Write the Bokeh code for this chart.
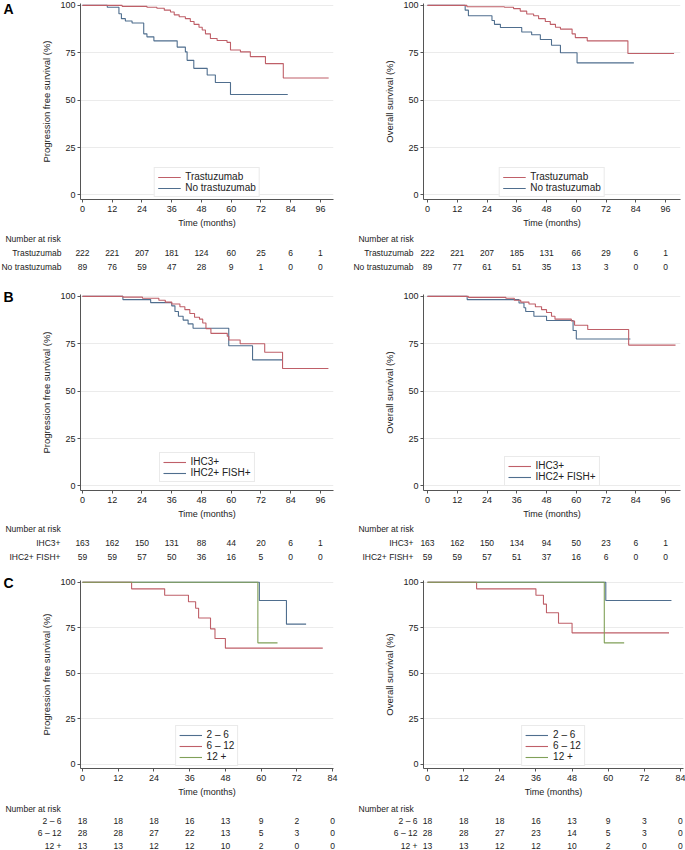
from bokeh.plotting import figure
from bokeh.models import Range1d, FixedTicker, Legend, LegendItem
from bokeh.core.properties import value
from bokeh.layouts import column, row
from bokeh.embed import file_html
from bokeh.resources import INLINE

FONT = "Liberation Sans"
RED = "#bf5f68"
BLUE = "#4f6e8e"
GREEN = "#80a058"
AXIS = "#555555"
TXT = "#222222"

# ---------------- data ----------------
months_96 = [0, 12, 24, 36, 48, 60, 72, 84, 96]
months_84 = [0, 12, 24, 36, 48, 60, 72, 84]
y_ticks = [0, 25, 50, 75, 100]

names_a = ["Trastuzumab", "No trastuzumab"]
names_b = ["IHC3+", "IHC2+ FISH+"]
names_c = ["2 \u2013 6", "6 \u2013 12", "12 +"]

# Panel A - progression free survival
a_pfs_tras_t = [0, 16, 26, 30, 33, 35.5, 37, 39, 41.5, 43.5, 45, 47, 48.3, 49.6, 51.6, 54.3, 58.3, 59.7, 63.7, 67.7, 73.8, 81, 99.3]
a_pfs_tras_s = [100, 99.5, 99, 98.5, 97.5, 96.5, 95, 94, 93, 91.5, 90, 88.5, 87, 85, 82.5, 81.5, 80.5, 76.5, 75.5, 73, 69.3, 61.7, 61.7]
a_pfs_none_t = [0, 10, 14.7, 15.7, 17.3, 20, 24.7, 26, 28.8, 38.2, 41.5, 42.2, 44.9, 50.3, 53.6, 59.7, 82.8]
a_pfs_none_s = [100, 99, 95.6, 93, 91.8, 90.7, 85, 83.4, 81.3, 78, 75.5, 71, 66.8, 63.3, 59.3, 53, 53]
# Panel A - overall survival
a_os_tras_t = [0, 15.9, 31, 34.7, 37.4, 40, 42.8, 44.8, 47.5, 49.5, 51.6, 53.6, 58.3, 59.6, 64.4, 80.8, 99.4]
a_os_tras_s = [100, 99.3, 99, 98.3, 97, 95.5, 94.5, 93, 91.5, 90, 88.5, 87.5, 85, 83, 81.3, 74.6, 74.6]
a_os_none_t = [0, 15.2, 16.5, 26, 27, 29.4, 38, 42, 45.5, 50, 53.6, 60.3, 83.2]
a_os_none_s = [100, 97.5, 94.5, 92, 90, 88.3, 86, 84.5, 82, 79, 75, 69.7, 69.7]

# Panel B - progression free survival
b_pfs_ihc3_t = [0, 16.3, 24.2, 30.8, 33.4, 36, 39.3, 41.3, 43.3, 45.2, 47.2, 48.5, 49.8, 51.8, 58.4, 59, 63.6, 73.5, 80.7, 99.2]
b_pfs_ihc3_s = [100, 99.6, 99, 98, 97, 96, 94.5, 93, 91, 89, 88, 86, 83, 80.5, 79, 77, 75, 70.5, 62, 62]
b_pfs_ihc2_t = [0, 16.3, 27.5, 36, 37.3, 38.7, 40.6, 42.6, 44.6, 59, 68.6, 80.7]
b_pfs_ihc2_s = [100, 98.3, 96.7, 95, 92, 89.5, 87.5, 85.5, 83.2, 74, 66.5, 66.5]
# Panel B - overall survival
b_os_ihc3_t = [0, 16.5, 31.6, 35, 37.6, 40.9, 43.5, 46, 48, 50, 51.4, 58, 59.3, 64.6, 81.1, 100]
b_os_ihc3_s = [100, 99.5, 99, 98, 97, 96, 94.5, 93, 91.5, 89.5, 88, 87, 84.8, 82.5, 74.3, 74.3]
b_os_ihc2_t = [0, 16, 36.9, 38.9, 39.6, 42.9, 48, 58.7, 60, 81.8]
b_os_ihc2_s = [100, 98.3, 96.5, 94, 92, 89.5, 87.3, 82, 77.5, 77.5]

# Panel C - progression free survival
c_pfs_26_t = [0, 59.4, 68.5, 75.1]
c_pfs_26_s = [100, 90, 77, 77]
c_pfs_612_t = [0, 16.5, 27.6, 35.6, 38, 39, 43, 44.5, 48, 80.7]
c_pfs_612_s = [100, 96.4, 92.9, 89.3, 85.7, 80.4, 74.4, 69.1, 63.8, 63.8]
c_pfs_12_t = [0, 58.9, 65.5]
c_pfs_12_s = [100, 66.7, 66.7]
# Panel C - overall survival
c_os_26_t = [0, 59.2, 81]
c_os_26_s = [100, 90, 90]
c_os_612_t = [0, 16.3, 36, 38.5, 39.5, 43.5, 48, 80.2]
c_os_612_s = [100, 96.4, 92.9, 88, 83.3, 77.5, 72.2, 72.2]
c_os_12_t = [0, 58.7, 65.3]
c_os_12_s = [100, 66.7, 66.7]

# Number at risk (rows in legend order)
risk_a_pfs = [[222, 221, 207, 181, 124, 60, 25, 6, 1],
              [89, 76, 59, 47, 28, 9, 1, 0, 0]]
risk_a_os = [[222, 221, 207, 185, 131, 66, 29, 6, 1],
             [89, 77, 61, 51, 35, 13, 3, 0, 0]]
risk_b_pfs = [[163, 162, 150, 131, 88, 44, 20, 6, 1],
              [59, 59, 57, 50, 36, 16, 5, 0, 0]]
risk_b_os = [[163, 162, 150, 134, 94, 50, 23, 6, 1],
             [59, 59, 57, 51, 37, 16, 6, 0, 0]]
risk_c_pfs = [[18, 18, 18, 16, 13, 9, 2, 0],
              [28, 28, 27, 22, 13, 5, 3, 0],
              [13, 13, 12, 12, 10, 2, 0, 0]]
risk_c_os = [[18, 18, 18, 16, 13, 9, 3, 0],
             [28, 28, 27, 23, 14, 5, 3, 0],
             [13, 13, 12, 12, 10, 2, 0, 0]]

Y0, Y1 = -2.4, 101.0
LETTER_W = 20


def base_fig(**kw):
    f = figure(output_backend="svg", toolbar_location=None, tools="", **kw)
    f.frame_align = False
    f.outline_line_color = None
    return f


def km_fig(width, height, bl, br, bt, bb, xr, xticks, ylabel, curves,
           legend_order, leg_margin):
    p = base_fig(width=width, height=height,
                 x_range=Range1d(xr[0], xr[1]), y_range=Range1d(Y0, Y1),
                 min_border_left=bl, min_border_right=br,
                 min_border_top=bt, min_border_bottom=bb)
    p.xgrid.visible = False
    p.ygrid.ticker = FixedTicker(ticks=y_ticks)
    p.ygrid.grid_line_color = "#ebebeb"
    p.xaxis.ticker = FixedTicker(ticks=xticks)
    p.yaxis.ticker = FixedTicker(ticks=y_ticks)
    for ax in (p.xaxis[0], p.yaxis[0]):
        ax.axis_line_color = AXIS
        ax.major_tick_line_color = AXIS
        ax.major_tick_out = 3
        ax.major_tick_in = 0
        ax.minor_tick_line_color = None
        ax.major_label_text_font = FONT
        ax.major_label_text_font_size = "9px"
        ax.major_label_text_color = TXT
        ax.axis_label_text_font = FONT
        ax.axis_label_text_font_style = "normal"
        ax.axis_label_text_color = TXT
    p.xaxis.axis_label = "Time (months)"
    p.yaxis.axis_label = ylabel
    p.xaxis.axis_label_text_font_size = "9px"
    p.yaxis.axis_label_text_font_size = "9.5px"
    p.xaxis.major_label_standoff = 3
    p.yaxis.major_label_standoff = 2
    p.xaxis.axis_label_standoff = 3
    p.yaxis.axis_label_standoff = 5

    rends = []
    for (t, s, color, name) in curves:
        rends.append(p.step(t, s, mode="after", line_color=color, line_width=1.1))
    items = [LegendItem(label=curves[i][3], renderers=[rends[i]]) for i in legend_order]
    legend = Legend(items=items, location="bottom_center", margin=leg_margin,
                    padding=3, spacing=0, glyph_width=23, glyph_height=10,
                    label_height=10, label_standoff=5,
                    label_text_font=FONT, label_text_font_size="10px",
                    label_text_color=TXT, border_line_color="#d5d5d5",
                    background_fill_color="white", background_fill_alpha=1.0)
    p.add_layout(legend)
    return p


def table_fig(width, height, frame_l, frame_r, xr, xticks, names, risk,
              nar_px, nar_y, row_y0, row_step, lab_px):
    s = (frame_r - frame_l) / (xr[1] - xr[0])
    x_start = xr[0] - frame_l / s
    x_end = xr[1] + (width - frame_r) / s
    t = base_fig(width=width, height=height,
                 x_range=Range1d(x_start, x_end), y_range=Range1d(height, 0),
                 min_border_left=0, min_border_right=0,
                 min_border_top=0, min_border_bottom=0,
                 x_axis_type=None, y_axis_type=None)
    t.xgrid.visible = False
    t.ygrid.visible = False
    t.text(x=[nar_px / s], y=[nar_y], text=["Number at risk"],
           text_font=value(FONT), text_font_size="8.5px", text_color=TXT,
           text_align="left", text_baseline="middle")
    for i, counts in enumerate(risk):
        yy = row_y0 + i * row_step
        t.text(x=xticks[:len(counts)], y=[yy] * len(counts),
               text=[str(c) for c in counts],
               text_font=value(FONT), text_font_size="8.5px", text_color=TXT,
               text_align="center", text_baseline="middle")
        t.text(x=[lab_px / s], y=[yy], text=[names[i]],
               text_font=value(FONT), text_font_size="8.5px", text_color=TXT,
               text_align="right", text_baseline="middle")
    return t


def letter_fig(height, letter, y):
    f = base_fig(width=LETTER_W, height=height,
                 x_range=Range1d(0, LETTER_W), y_range=Range1d(height, 0),
                 min_border_left=0, min_border_right=0,
                 min_border_top=0, min_border_bottom=0,
                 x_axis_type=None, y_axis_type=None)
    f.xgrid.visible = False
    f.ygrid.visible = False
    f.text(x=[3], y=[max(y - 7, 0)], text=[letter], text_font=value(FONT),
           text_font_size="14px", text_font_style="bold", text_color="black",
           text_align="left", text_baseline="top")
    return f


PFS = "Progression free survival (%)"
OS = "Overall survival (%)"

# column geometry: (cell width, frame left, frame right) in cell pixels
L_W, L_FL, L_FR = 340, 80, 333
R_W, R_FL, R_FR = 345, 83, 340
XR_L96 = (-0.8, 101.25)
XR_R96 = (-1.6, 102.0)
XR_L84 = (-0.66, 84.3)
XR_R84 = (-1.33, 85.0)
R_FR_C = 343

# row geometry: (border top, frame height, border bottom, table height)
ROW_A = (3, 197, 30, 42)
ROW_B = (22, 197, 30, 42)
ROW_C = (17, 189, 30, 51)


def cell(left, rowgeo, xr, xticks, ylabel, curves, legend_order, names, risk,
         letter=None, lab_px=-21, leg_margin=3, fr=None, nar_y=8, row_y0=22,
         row_step=14):
    bt, fh, bb, th = rowgeo
    kh = bt + fh + bb
    if left:
        W, FL, FR = L_W, L_FL, L_FR
        k = km_fig(W - LETTER_W, kh, FL - LETTER_W, W - FR, bt, bb, xr, xticks,
                   ylabel, curves, legend_order, leg_margin)
        yl = bt + (Y1 - 100) * fh / (Y1 - Y0)
        top = row(letter_fig(kh, letter, yl), k)
        nar_px = -77
    else:
        W, FL, FR = R_W, R_FL, (fr if fr else R_FR)
        top = km_fig(W, kh, FL, W - FR, bt, bb, xr, xticks, ylabel, curves,
                     legend_order, leg_margin)
        nar_px = -69
    tab = table_fig(W, th, FL, FR, xr, xticks, names, risk, nar_px, nar_y,
                    row_y0, row_step, lab_px)
    return column(top, tab)


ca1 = cell(True, ROW_A, XR_L96, months_96, PFS,
           [(a_pfs_none_t, a_pfs_none_s, BLUE, names_a[1]),
            (a_pfs_tras_t, a_pfs_tras_s, RED, names_a[0])],
           [1, 0], names_a, risk_a_pfs, letter="A", lab_px=-21, leg_margin=2)
ca2 = cell(False, ROW_A, XR_R96, months_96, OS,
           [(a_os_none_t, a_os_none_s, BLUE, names_a[1]),
            (a_os_tras_t, a_os_tras_s, RED, names_a[0])],
           [1, 0], names_a, risk_a_os, lab_px=-14, leg_margin=2)
cb1 = cell(True, ROW_B, XR_L96, months_96, PFS,
           [(b_pfs_ihc2_t, b_pfs_ihc2_s, BLUE, names_b[1]),
            (b_pfs_ihc3_t, b_pfs_ihc3_s, RED, names_b[0])],
           [1, 0], names_b, risk_b_pfs, letter="B", lab_px=-22, leg_margin=8,
           nar_y=7, row_y0=21)
cb2 = cell(False, ROW_B, XR_R96, months_96, OS,
           [(b_os_ihc2_t, b_os_ihc2_s, BLUE, names_b[1]),
            (b_os_ihc3_t, b_os_ihc3_s, RED, names_b[0])],
           [1, 0], names_b, risk_b_os, lab_px=-14, leg_margin=4,
           nar_y=7, row_y0=21)
cc1 = cell(True, ROW_C, XR_L84, months_84, PFS,
           [(c_pfs_26_t, c_pfs_26_s, BLUE, names_c[0]),
            (c_pfs_612_t, c_pfs_612_s, RED, names_c[1]),
            (c_pfs_12_t, c_pfs_12_s, GREEN, names_c[2])],
           [0, 1, 2], names_c, risk_c_pfs, letter="C", lab_px=-21, leg_margin=2,
           nar_y=9, row_y0=21, row_step=12.5)
cc2 = cell(False, ROW_C, XR_R84, months_84, OS,
           [(c_os_26_t, c_os_26_s, BLUE, names_c[0]),
            (c_os_612_t, c_os_612_s, RED, names_c[1]),
            (c_os_12_t, c_os_12_s, GREEN, names_c[2])],
           [0, 1, 2], names_c, risk_c_os, lab_px=-10, leg_margin=2,
           fr=R_FR_C, nar_y=9, row_y0=21, row_step=12.5)

layout = column(row(ca1, ca2), row(cb1, cb2), row(cc1, cc2))
open("out.html", "w").write(file_html(layout, INLINE))
